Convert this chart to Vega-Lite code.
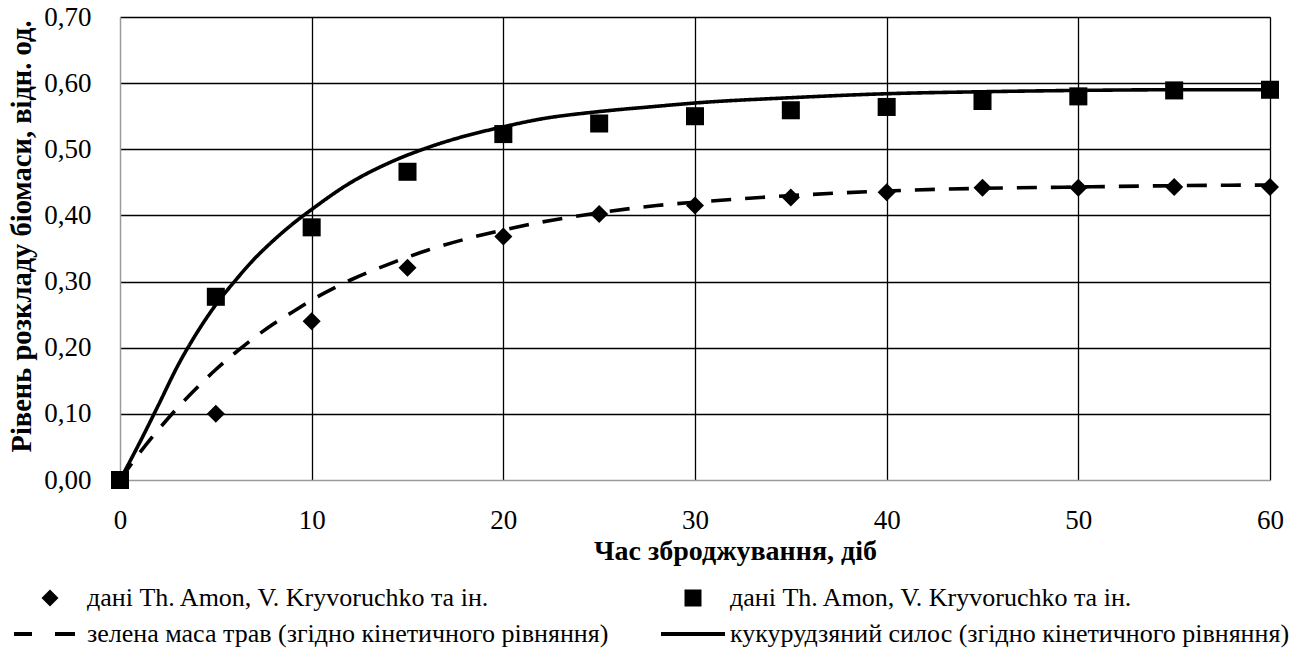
{
  "$schema": "https://vega.github.io/schema/vega-lite/v6.json",
  "width": 1150,
  "height": 463,
  "autosize": "none",
  "padding": {"left": 120, "top": 17, "right": 42, "bottom": 170},
  "background": "white",
  "config": {
    "view": {"stroke": null},
    "font": "Liberation Serif",
    "axis": {
      "labelFont": "Liberation Serif",
      "labelFontSize": 27,
      "labelColor": "black",
      "titleFont": "Liberation Serif",
      "titleFontSize": 28,
      "titleFontWeight": "bold",
      "titleColor": "black",
      "ticks": false,
      "domainColor": "#9a9a9a",
      "domainWidth": 1.5,
      "gridColor": "black",
      "gridWidth": 1.3,
      "gridOpacity": 1
    }
  },
  "datasets": {
    "measured": [
      {"t": 0, "v": 0.0, "series": "grass data"},
      {"t": 5, "v": 0.1, "series": "grass data"},
      {"t": 10, "v": 0.24, "series": "grass data"},
      {"t": 15, "v": 0.321, "series": "grass data"},
      {"t": 20, "v": 0.368, "series": "grass data"},
      {"t": 25, "v": 0.402, "series": "grass data"},
      {"t": 30, "v": 0.415, "series": "grass data"},
      {"t": 35, "v": 0.427, "series": "grass data"},
      {"t": 40, "v": 0.435, "series": "grass data"},
      {"t": 45, "v": 0.442, "series": "grass data"},
      {"t": 50, "v": 0.442, "series": "grass data"},
      {"t": 55, "v": 0.443, "series": "grass data"},
      {"t": 60, "v": 0.443, "series": "grass data"},
      {"t": 0, "v": 0.0, "series": "silage data"},
      {"t": 5, "v": 0.277, "series": "silage data"},
      {"t": 10, "v": 0.382, "series": "silage data"},
      {"t": 15, "v": 0.466, "series": "silage data"},
      {"t": 20, "v": 0.523, "series": "silage data"},
      {"t": 25, "v": 0.539, "series": "silage data"},
      {"t": 30, "v": 0.55, "series": "silage data"},
      {"t": 35, "v": 0.559, "series": "silage data"},
      {"t": 40, "v": 0.564, "series": "silage data"},
      {"t": 45, "v": 0.573, "series": "silage data"},
      {"t": 50, "v": 0.58, "series": "silage data"},
      {"t": 55, "v": 0.589, "series": "silage data"},
      {"t": 60, "v": 0.59, "series": "silage data"}
    ],
    "kinetic": [
      {"t": 0, "v": 0.0, "series": "grass model"},
      {"t": 1, "v": 0.04, "series": "grass model"},
      {"t": 2, "v": 0.076, "series": "grass model"},
      {"t": 3, "v": 0.109, "series": "grass model"},
      {"t": 4, "v": 0.139, "series": "grass model"},
      {"t": 5, "v": 0.167, "series": "grass model"},
      {"t": 6, "v": 0.192, "series": "grass model"},
      {"t": 7, "v": 0.215, "series": "grass model"},
      {"t": 8, "v": 0.236, "series": "grass model"},
      {"t": 9, "v": 0.254, "series": "grass model"},
      {"t": 10, "v": 0.272, "series": "grass model"},
      {"t": 12, "v": 0.302, "series": "grass model"},
      {"t": 14, "v": 0.326, "series": "grass model"},
      {"t": 16, "v": 0.347, "series": "grass model"},
      {"t": 18, "v": 0.364, "series": "grass model"},
      {"t": 20, "v": 0.378, "series": "grass model"},
      {"t": 22, "v": 0.39, "series": "grass model"},
      {"t": 25, "v": 0.404, "series": "grass model"},
      {"t": 28, "v": 0.415, "series": "grass model"},
      {"t": 30, "v": 0.42, "series": "grass model"},
      {"t": 35, "v": 0.43, "series": "grass model"},
      {"t": 40, "v": 0.437, "series": "grass model"},
      {"t": 45, "v": 0.441, "series": "grass model"},
      {"t": 50, "v": 0.443, "series": "grass model"},
      {"t": 55, "v": 0.445, "series": "grass model"},
      {"t": 60, "v": 0.446, "series": "grass model"},
      {"t": 0, "v": 0.0, "series": "silage model"},
      {"t": 1, "v": 0.055, "series": "silage model"},
      {"t": 2, "v": 0.113, "series": "silage model"},
      {"t": 3, "v": 0.172, "series": "silage model"},
      {"t": 4, "v": 0.222, "series": "silage model"},
      {"t": 5, "v": 0.265, "series": "silage model"},
      {"t": 6, "v": 0.301, "series": "silage model"},
      {"t": 7, "v": 0.334, "series": "silage model"},
      {"t": 8, "v": 0.362, "series": "silage model"},
      {"t": 9, "v": 0.387, "series": "silage model"},
      {"t": 10, "v": 0.409, "series": "silage model"},
      {"t": 12, "v": 0.449, "series": "silage model"},
      {"t": 14, "v": 0.479, "series": "silage model"},
      {"t": 16, "v": 0.502, "series": "silage model"},
      {"t": 18, "v": 0.52, "series": "silage model"},
      {"t": 20, "v": 0.534, "series": "silage model"},
      {"t": 22, "v": 0.546, "series": "silage model"},
      {"t": 25, "v": 0.557, "series": "silage model"},
      {"t": 28, "v": 0.565, "series": "silage model"},
      {"t": 30, "v": 0.57, "series": "silage model"},
      {"t": 35, "v": 0.578, "series": "silage model"},
      {"t": 40, "v": 0.584, "series": "silage model"},
      {"t": 45, "v": 0.587, "series": "silage model"},
      {"t": 50, "v": 0.589, "series": "silage model"},
      {"t": 55, "v": 0.59, "series": "silage model"},
      {"t": 60, "v": 0.59, "series": "silage model"}
    ]
  },
  "encoding": {
    "x": {
      "field": "t",
      "type": "quantitative",
      "scale": {"domain": [0, 60], "nice": false},
      "axis": {
        "values": [0, 10, 20, 30, 40, 50, 60],
        "title": "Час зброджування, діб",
        "labelPadding": 27,
        "labelBaseline": "top",
        "labelFlush": false,
        "titleX": 615,
        "titleY": 71,
        "titleBaseline": "middle",
        "gridColor": {"condition": {"test": "datum.value === 0", "value": "transparent"}, "value": "black"}
      }
    },
    "y": {
      "field": "v",
      "type": "quantitative",
      "scale": {"domain": [0, 0.7], "nice": false},
      "axis": {
        "values": [0, 0.1, 0.2, 0.3, 0.4, 0.5, 0.6, 0.7],
        "labelExpr": "replace(format(datum.value, '.2f'), '.', ',')",
        "title": "Рівень розкладу біомаси, відн. од.",
        "titleFontSize": 28.5,
        "labelPadding": 29,
        "titleAngle": -90,
        "titleX": -99,
        "titleY": 219,
        "titleAlign": "center",
        "titleBaseline": "middle",
        "gridColor": {"condition": {"test": "datum.value === 0", "value": "transparent"}, "value": "black"}
      }
    }
  },
  "layer": [
    {
      "data": {"name": "kinetic"},
      "mark": {"type": "line", "color": "black", "strokeWidth": 3.6, "interpolate": "monotone", "clip": false},
      "encoding": {
        "detail": {"field": "series"},
        "strokeDash": {
          "field": "series",
          "type": "nominal",
          "scale": {"domain": ["grass model", "silage model"], "range": [[20, 14], [1, 0]]},
          "legend": null
        }
      }
    },
    {
      "data": {"name": "measured"},
      "mark": {"type": "point", "filled": true, "color": "black", "opacity": 1, "size": 450},
      "encoding": {
        "shape": {
          "field": "series",
          "type": "nominal",
          "scale": {
            "domain": ["grass data", "silage data", "grass model", "silage model"],
            "range": [
              "M0,-0.85L0.85,0L0,0.85L-0.85,0Z",
              "M-0.85,-0.85H0.85V0.85H-0.85Z",
              "M-3.6,-0.2H-1.8V0.2H-3.6Z M0.5,-0.2H2.5V0.2H0.5Z",
              "M-3.2,-0.2H3.2V0.2H-3.2Z"
            ]
          },
          "legend": {
            "title": null,
            "orient": "none",
            "legendX": -105,
            "legendY": 568,
            "direction": "horizontal",
            "columns": 2,
            "columnPadding": 49,
            "rowPadding": 10,
            "symbolSize": 400,
            "symbolOffset": 22,
            "symbolFillColor": "black",
            "symbolStrokeWidth": 0,
            "symbolOpacity": 1,
            "labelFont": "Liberation Serif",
            "labelFontSize": 26,
            "labelColor": "black",
            "labelOffset": 24,
            "labelLimit": 0,
            "labelExpr": "datum.value === 'grass model' ? 'зелена маса трав (згідно кінетичного рівняння)' : datum.value === 'silage model' ? 'кукурудзяний силос (згідно кінетичного рівняння)' : 'дані Th. Amon, V. Kryvoruchko та ін.'"
          }
        }
      }
    }
  ]
}
